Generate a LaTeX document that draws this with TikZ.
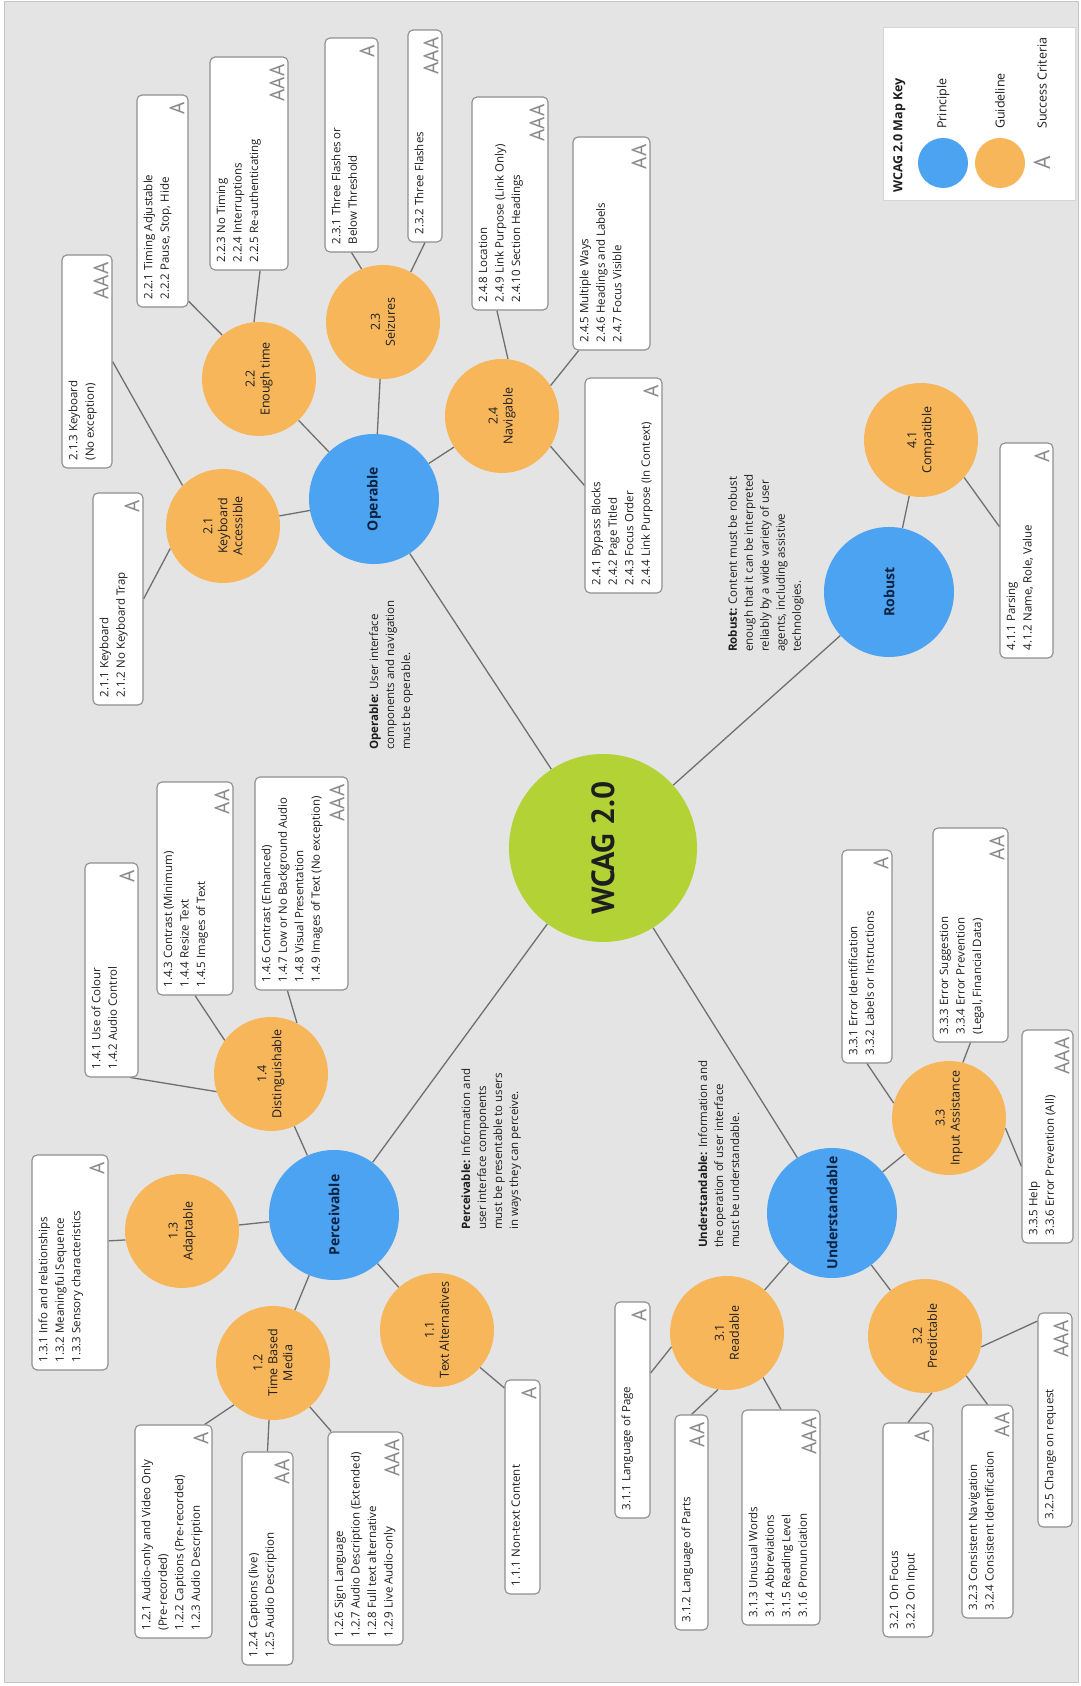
\documentclass[tikz,border=0pt]{standalone}
\usepackage{fontspec}
\setmainfont{Open Sans}
\newfontfamily\ptsans{PT Sans}
\usetikzlibrary{calc}
\definecolor{bgray}{HTML}{E4E4E4}
\definecolor{bframe}{HTML}{C4C4C4}
\definecolor{pblue}{HTML}{4BA3F2}
\definecolor{gorange}{HTML}{F8B65B}
\definecolor{hubgreen}{HTML}{B2D235}
\definecolor{linegray}{HTML}{6F6F6F}
\definecolor{boxline}{HTML}{8E8E8E}
\definecolor{lvlgray}{HTML}{8A8A8A}
\definecolor{navy}{HTML}{0E2240}
\definecolor{txtdark}{HTML}{1E1E1E}
\definecolor{keyline}{HTML}{D6D6D6}
\pgfdeclarelayer{bg}
\pgfdeclarelayer{lines}
\pgfsetlayers{bg,lines,main}
\tikzset{
  conn/.style={draw=linegray, line width=1.3pt},
  critbox/.style={draw=boxline, fill=white, rounded corners=5pt, line width=1.1pt, inner sep=0pt},
  crittext/.style={anchor=north west, inner sep=0pt, align=left, text=txtdark, font=\fontsize{11.5}{16.5}\selectfont},
  critlevel/.style={anchor=south east, inner sep=0pt, text=lvlgray, font=\ptsans\fontsize{21}{21}\selectfont},
  hubnode/.style={circle, fill=hubgreen, minimum size=188pt, inner sep=0pt, text=txtdark, font=\ptsans\bfseries\fontsize{32}{34}\selectfont},
  princnode/.style={circle, fill=pblue, minimum size=130pt, inner sep=0pt, text=navy, font=\bfseries\fontsize{14}{16}\selectfont},
  guidenode/.style={circle, fill=gorange, minimum size=114pt, inner sep=0pt, align=center, text=txtdark, font=\fontsize{12.5}{15}\selectfont},
  desc/.style={anchor=north west, inner sep=0pt, align=left, text=txtdark, font=\fontsize{11.5}{16}\selectfont},
  keylab/.style={anchor=west, inner sep=0pt, text=txtdark, font=\fontsize{12.5}{14}\selectfont},
}
\newcommand{\critbox}[7]{%
  \node[critbox, minimum width=#4pt, minimum height=#5pt] (#1) at (#2,#3) {};
  \node[crittext] (#1-t) at ($(#1.north west)+(8,7)$) {#6};
  \node[critlevel] (#1-l) at ($(#1.south east)+(-8,-4)$) {#7};
}
\begin{document}
\begin{tikzpicture}[x=1pt, y=-1pt, rotate=90, transform shape]
\begin{pgfonlayer}{bg}
  \fill[white] (0,0) rectangle (1686,1081);
  \filldraw[fill=bgray, draw=bframe, line width=1pt] (3,4) rectangle (1684,1078);
\end{pgfonlayer}

% hub and principles
\node[hubnode] (wcag) at (838,603) {WCAG 2.0};
\node[princnode] (oper) at (1187,374) {Operable};
\node[princnode] (perc) at (471,334) {Perceivable};
\node[princnode] (unde) at (473,832) {Understandable};
\node[princnode] (robu) at (1094,889) {Robust};

% guidelines
\node[guidenode] (g21) at (1160,223) {2.1\\Keyboard\\Accessible};
\node[guidenode] (g22) at (1307,259) {2.2\\Enough time};
\node[guidenode] (g23) at (1364,383) {2.3\\Seizures};
\node[guidenode] (g24) at (1270,502) {2.4\\Navigable};
\node[guidenode] (g41) at (1246,921) {4.1\\Compatible};
\node[guidenode] (g14) at (612,271) {1.4\\Distinguishable};
\node[guidenode] (g13) at (455,182) {1.3\\Adaptable};
\node[guidenode] (g12) at (323,273) {1.2\\Time Based\\Media};
\node[guidenode] (g11) at (356,437) {1.1\\Text Alternatives};
\node[guidenode] (g31) at (353,727) {3.1\\Readable};
\node[guidenode] (g32) at (350,925) {3.2\\Predictable};
\node[guidenode] (g33) at (568,949) {3.3\\Input Assistance};

% success criteria boxes
\critbox{b211}{1087}{118}{212}{50}{2.1.1 Keyboard\\2.1.2 No Keyboard Trap}{A}
\critbox{b213}{1324.5}{87}{213}{50}{2.1.3 Keyboard\\(No exception)}{AAA}
\critbox{b221}{1485}{162.5}{212}{51}{2.2.1 Timing Adjustable\\2.2.2 Pause, Stop, Hide}{A}
\critbox{b223}{1522.5}{249}{213}{78}{2.2.3 No Timing\\2.2.4 Interruptions\\2.2.5 Re-authenticating}{AAA}
\critbox{b231}{1541}{351.5}{214}{53}{2.3.1 Three Flashes or\\Below Threshold}{A}
\critbox{b232}{1550}{425}{212}{34}{2.3.2 Three Flashes}{AAA}
\critbox{b248}{1482.5}{510}{213}{76}{2.4.8 Location\\2.4.9 Link Purpose (Link Only)\\2.4.10 Section Headings}{AAA}
\critbox{b245}{1442.5}{611.5}{213}{77}{2.4.5 Multiple Ways\\2.4.6 Headings and Labels\\2.4.7 Focus Visible}{AA}
\critbox{b241}{1200.5}{623.5}{215}{77}{2.4.1 Bypass Blocks\\2.4.2 Page Titled\\2.4.3 Focus Order\\2.4.4 Link Purpose (In Context)}{A}
\critbox{b411}{1135.5}{1026.5}{215}{53}{4.1.1 Parsing\\4.1.2 Name, Role, Value}{A}
\critbox{b141}{716}{111.5}{214}{53}{1.4.1 Use of Colour\\1.4.2 Audio Control}{A}
\critbox{b143}{797.5}{195}{213}{76}{1.4.3 Contrast (Minimum)\\1.4.4 Resize Text\\1.4.5 Images of Text}{AA}
\critbox{b146}{802.5}{301.5}{213}{93}{1.4.6 Contrast (Enhanced)\\1.4.7 Low or No Background Audio\\1.4.8 Visual Presentation\\1.4.9 Images of Text (No exception)}{AAA}
\critbox{b131}{423.5}{70}{215}{76}{1.3.1 Info and relationships\\1.3.2 Meaningful Sequence\\1.3.3 Sensory characteristics}{A}
\critbox{b121}{154.5}{173.5}{213}{77}{1.2.1 Audio-only and Video Only\\(Pre-recorded)\\1.2.2 Captions (Pre-recorded)\\1.2.3 Audio Description}{A}
\critbox{b124}{127.5}{267.5}{213}{51}{1.2.4 Captions (live)\\1.2.5 Audio Description}{AA}
\critbox{b126}{147.5}{365.5}{213}{75}{1.2.6 Sign Language\\1.2.7 Audio Description (Extended)\\1.2.8 Full text alternative\\1.2.9 Live Audio-only}{AAA}
\critbox{b111}{199}{522.5}{214}{35}{1.1.1 Non-text Content}{A}
\critbox{b311}{276}{632.5}{216}{35}{3.1.1 Language of Page}{A}
\critbox{b312}{163.5}{691.5}{215}{33}{3.1.2 Language of Parts}{AA}
\critbox{b313}{168.5}{781}{215}{78}{3.1.3 Unusual Words\\3.1.4 Abbreviations\\3.1.5 Reading Level\\3.1.6 Pronunciation}{AAA}
\critbox{b321}{156}{908}{214}{50}{3.2.1 On Focus\\3.2.2 On Input}{A}
\critbox{b323}{174.5}{987.5}{213}{51}{3.2.3 Consistent Navigation\\3.2.4 Consistent Identification}{AA}
\critbox{b325}{266}{1055}{214}{34}{3.2.5 Change on request}{AAA}
\critbox{b331}{729.5}{867}{213}{50}{3.3.1 Error Identification\\3.3.2 Labels or Instructions}{A}
\critbox{b333}{751}{970.5}{214}{75}{3.3.3 Error Suggestion\\3.3.4 Error Prevention\\(Legal, Financial Data)}{AA}
\critbox{b335}{549.5}{1047.5}{213}{51}{3.3.5 Help\\3.3.6 Error Prevention (All)}{AAA}

% principle descriptions
\node[desc] (dop) at (936,369) {\textbf{Operable:} User interface\\components and navigation\\must be operable.};
\node[desc] (drob) at (1034,728) {\textbf{Robust:} Content must be robust\\enough that it can be interpreted\\reliably by a wide variety of user\\agents, including assistive\\technologies.};
\node[desc] (dper) at (456,461) {\textbf{Perceivable:} Information and\\user interface components\\must be presentable to users\\in ways they can perceive.};
\node[desc] (dund) at (438,698) {\textbf{Understandable:} Information and\\the operation of user interface\\must be understandable.};

% key
\node[draw=keyline, fill=white, minimum width=173pt, minimum height=192pt, inner sep=0pt] (key) at (1572.5,979) {};
\node[anchor=north west, inner sep=0pt, text=txtdark, font=\bfseries\fontsize{12.5}{14}\selectfont] (keyt) at (1493,893) {WCAG 2.0 Map Key};
\node[circle, fill=pblue, minimum size=50pt, inner sep=0pt] (kp) at (1523,943) {};
\node[circle, fill=gorange, minimum size=50pt, inner sep=0pt] (kg) at (1523,1000) {};
\node[inner sep=0pt, text=lvlgray, font=\ptsans\fontsize{23}{23}\selectfont] (ka) at (1523,1042) {A};
\node[keylab] (kpl) at (1557,943) {Principle};
\node[keylab] (kgl) at (1557,1000) {Guideline};
\node[keylab] (kal) at (1557,1042) {Success Criteria};

% connectors
\begin{pgfonlayer}{lines}
\draw[conn] (wcag) -- (oper);
\draw[conn] (wcag) -- (perc);
\draw[conn] (wcag) -- (unde);
\draw[conn] (wcag) -- (robu);
\draw[conn] (oper) -- (g21);
\draw[conn] (oper) -- (g22);
\draw[conn] (oper) -- (g23);
\draw[conn] (oper) -- (g24);
\draw[conn] (perc) -- (g11);
\draw[conn] (perc) -- (g12);
\draw[conn] (perc) -- (g13);
\draw[conn] (perc) -- (g14);
\draw[conn] (unde) -- (g31);
\draw[conn] (unde) -- (g32);
\draw[conn] (unde) -- (g33);
\draw[conn] (robu) -- (g41);
\draw[conn] (b211.south) -- (g21.113);
\draw[conn] (b213.south) -- (g21.45);
\draw[conn] ($(b221.south west)!0.03!(b221.south east)$) -- (g22.40);
\draw[conn] ($(b223.north west)!0.64!(b223.south west)$) -- (g22.5);
\draw[conn] (b231.west) -- (g23.22);
\draw[conn] (b232.west) -- (g23.-29);
\draw[conn] ($(b248.north west)!0.33!(b248.south west)$) -- (g24.-6);
\draw[conn] ($(b245.north west)!0.08!(b245.south west)$) -- (g24.-58);
\draw[conn] (b241.north) -- (g24.238);
\draw[conn] ($(b411.north west)!0.61!(b411.north east)$) -- (g41.229);
\draw[conn] ($(b141.north west)!0.85!(b141.south west)$) -- (g14.108);
\draw[conn] (b143.west) -- (g14.54);
\draw[conn] ($(b146.north west)!0.35!(b146.south west)$) -- (g14.-27);
\draw[conn] ($(b131.south west)!0.6!(b131.south east)$) -- (g13.99);
\draw[conn] ($(b121.north east)!0.9!(b121.south east)$) -- (g12.137);
\draw[conn] (b124.east) -- (g12.176);
\draw[conn] ($(b126.north east)!0.05!(b126.south east)$) -- (g12.220);
\draw[conn] ($(b111.north west)!0.96!(b111.north east)$) -- (g11.229);
\draw[conn] ($(b311.south west)!0.67!(b311.south east)$) -- (g31.104);
\draw[conn] (b312.east) -- (g31.171);
\draw[conn] (b313.east) -- (g31.219);
\draw[conn] (b321.east) -- (g32.187);
\draw[conn] (b323.east) -- (g32.226);
\draw[conn] ($(b325.north west)!0.96!(b325.north east)$) -- (g32.259);
\draw[conn] (b331.west) -- (g33.75);
\draw[conn] (b333.west) -- (g33.-14);
\draw[conn] ($(b335.north west)!0.36!(b335.north east)$) -- (g33.260);
\end{pgfonlayer}
\end{tikzpicture}
\end{document}
